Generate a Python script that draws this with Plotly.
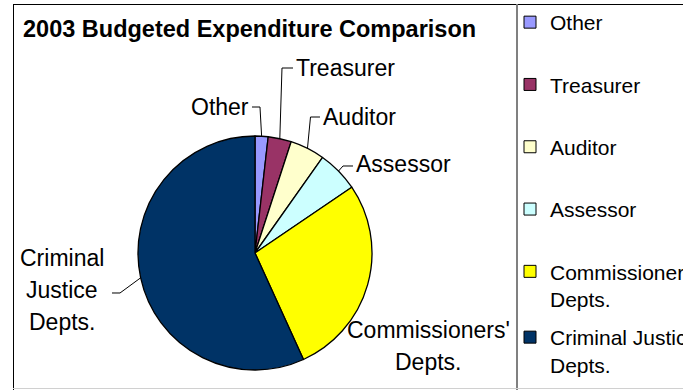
import math
import plotly.graph_objects as go

# ---------------- data ----------------
categories = ["Other", "Treasurer", "Auditor", "Assessor",
              "Commissioners' Depts.", "Criminal Justice Depts."]
values = [1.8, 3.2, 4.8, 5.7, 27.7, 56.8]
colors = ["#9999FF", "#993366", "#FFFFCC", "#CCFFFF", "#FFFF00", "#003366"]
legend_names = ["Other", "Treasurer", "Auditor", "Assessor",
                "Commissioners'<br>Depts.", "Criminal Justice<br>Depts."]
label_lines = [["Other"], ["Treasurer"], ["Auditor"], ["Assessor"],
               ["Commissioners'", "Depts."], ["Criminal", "Justice", "Depts."]]
title_text = "2003 Budgeted Expenditure Comparison"

# ---------------- layout helpers (pixels -> paper) ----------------
W, H = 683, 390
CX, CY, R = 255, 253, 117
FONT = "Liberation Sans, Arial, sans-serif"


def px(x):
    return x / W


def py(y):
    return 1 - y / H


# label placement styles (pixel positions of text and leader elbows)
label_pos = [
    dict(x=251, y=107, xanchor="right", leader=[(260, 107), (252, 107)]),
    dict(x=294, y=68, xanchor="left", leader=[(282, 68), (293, 68)]),
    dict(x=321, y=117, xanchor="left", leader=[(310.5, 117), (320, 117)]),
    dict(x=354, y=164, xanchor="left", leader=[(343, 166), (353, 166)]),
    dict(x=428, y=330, xanchor="center", leader=None),
    dict(x=62, y=258, xanchor="center", leader=[(120, 293), (112, 293)]),
]
LINE_GAP = 32

fig = go.Figure()

fig.add_trace(go.Pie(
    labels=categories,
    values=values,
    sort=False,
    direction="clockwise",
    rotation=0,
    marker=dict(colors=colors, line=dict(color="black", width=1.3)),
    textinfo="none",
    hoverinfo="label+percent",
    showlegend=False,
    domain=dict(x=[px(CX - R), px(CX + R)], y=[py(CY + R), py(CY - R)]),
))

# legend entries (one per category)
for i, (name, col) in enumerate(zip(legend_names, colors)):
    fig.add_trace(go.Scatter(
        x=[None], y=[None], mode="markers",
        marker=dict(symbol="square", size=12, color=col,
                    line=dict(color="black", width=1)),
        name=name, legendgroup=f"g{i}", showlegend=True,
        legend="legend" if i < 5 else "legend2",
        hoverinfo="skip",
    ))

# labels and leader lines computed from slice angles
total = sum(values)
cum = 0.0
annotations = []
shapes = []
for v, lines, pos in zip(values, label_lines, label_pos):
    theta = 2 * math.pi * (cum + v / 2) / total
    cum += v
    ex = CX + R * math.sin(theta)
    ey = CY - R * math.cos(theta)
    for k, ln in enumerate(lines):
        annotations.append(dict(
            x=px(pos["x"]), y=py(pos["y"] + k * LINE_GAP), xref="paper", yref="paper",
            text=ln, showarrow=False, xanchor=pos["xanchor"], yanchor="middle",
            font=dict(family=FONT, size=23, color="black"),
        ))
    if pos["leader"]:
        pts = [(ex, ey)] + pos["leader"]
        path = "M " + " L ".join(f"{px(a):.5f},{py(b):.5f}" for a, b in pts)
        shapes.append(dict(type="path", path=path, xref="paper", yref="paper",
                           line=dict(color="black", width=1)))

# frame lines
shapes += [
    dict(type="line", xref="paper", yref="paper", x0=px(13.5), x1=px(13.5),
         y0=py(4), y1=0, line=dict(color="black", width=1)),
    dict(type="line", xref="paper", yref="paper", x0=px(13), x1=1,
         y0=py(4.5), y1=py(4.5), line=dict(color="black", width=1)),
    dict(type="line", xref="paper", yref="paper", x0=px(517), x1=px(517),
         y0=py(4), y1=0, line=dict(color="#808080", width=2)),
    dict(type="line", xref="paper", yref="paper", x0=px(13), x1=1,
         y0=py(388.5), y1=py(388.5), line=dict(color="#D0D0D0", width=1)),
]

fig.update_layout(
    width=W, height=H,
    margin=dict(l=0, r=0, t=0, b=0, autoexpand=False),
    paper_bgcolor="white", plot_bgcolor="white",
    xaxis=dict(visible=False), yaxis=dict(visible=False),
    title=dict(text=f"<b>{title_text}</b>", x=px(23), xanchor="left",
               y=py(29), yanchor="middle",
               font=dict(family=FONT, size=23.5, color="black")),
    legend=dict(x=px(510), xanchor="left", y=py(2), yanchor="top",
                font=dict(family=FONT, size=21, color="black"),
                tracegroupgap=32, traceorder="grouped", valign="top",
                bgcolor="rgba(0,0,0,0)", itemclick=False, itemdoubleclick=False),
    legend2=dict(x=px(510), xanchor="left", y=py(317), yanchor="top",
                 font=dict(family=FONT, size=21, color="black"),
                 valign="top", bgcolor="rgba(0,0,0,0)",
                 itemclick=False, itemdoubleclick=False),
    annotations=annotations,
    shapes=shapes,
)

fig.write_html("out.html")
